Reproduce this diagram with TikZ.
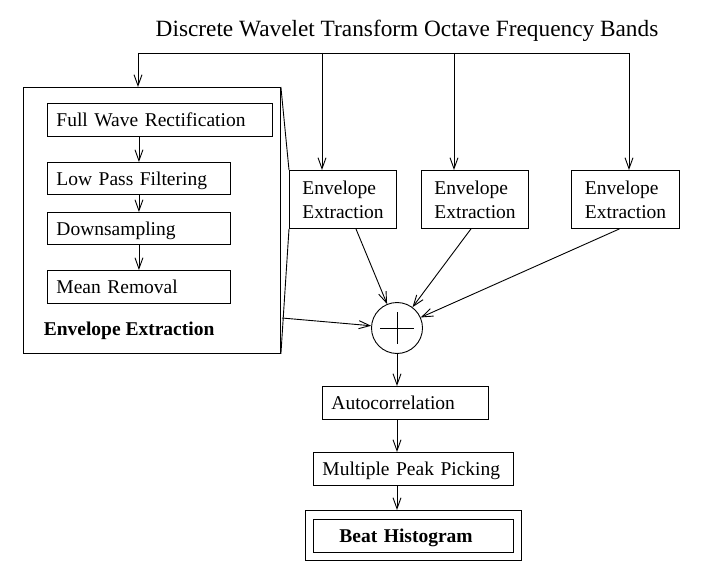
\documentclass[tikz,border=0pt]{standalone}
\usepackage{fontspec}
\setmainfont{Liberation Serif}
\usetikzlibrary{arrows.meta}
\hyphenpenalty=10000
\exhyphenpenalty=10000

\tikzset{
	blk/.style={draw,anchor=north west,align=left,inner xsep=9pt,inner ysep=0pt,
		text height=14pt,text depth=0pt,font=\fontsize{19.5}{24}\selectfont},
	envblk/.style={draw,anchor=north west,align=left,inner xsep=13pt,inner ysep=0pt,
		text width=81pt,minimum height=58pt,font=\fontsize{19.5}{24}\selectfont},
}

\begin{document}
\begin{tikzpicture}[x=1pt,y=-1pt,line width=0.9pt,>={Straight Barb[length=11pt,width=8pt]}]
	            
	            \useasboundingbox (0,0) rectangle (704,580);
	            
	            \node[anchor=base,font=\fontsize{23.3}{28}\selectfont] (title) at (407,37) {Discrete Wavelet Transform Octave Frequency Bands};
	            
	            % envelope extraction in detail
	            \node[draw,anchor=north west,minimum width=257pt,minimum height=266pt,inner sep=0pt] (big) at (23,87) {};
	            \node[blk,text width=207pt,minimum height=33pt] (fwr) at (47,103) {Full Wave Rectification};
	            \node[blk,text width=165pt,minimum height=32pt] (lpf) at (47,162) {Low Pass Filtering};
	            \node[blk,text width=165pt,minimum height=32pt] (down) at (47,212) {Downsampling};
	            \node[blk,text width=165pt,minimum height=33pt] (mean) at (47,270) {Mean Removal};
	            \node[anchor=base west,font=\fontsize{19.5}{24}\selectfont\bfseries] (biglabel) at (40,335) {Envelope Extraction};
	            
	            \draw [->](fwr.south -| lpf.north) -- (lpf.north);
	            \draw [->](lpf.south) -- (down.north);
	            \draw [->](down.south) -- (mean.north);
	            
	            % the other bands
	            \node[envblk] (env1) at (289,170) {Envelope\\Extraction};
	            \node[envblk] (env2) at (421,170) {Envelope\\Extraction};
	            \node[envblk,minimum width=108pt] (env3) at (571,170) {Envelope\\Extraction};
	            
	            \coordinate (bus0) at (138,53);
	            \coordinate (bus1) at (322,53);
	            \coordinate (bus2) at (454,53);
	            \coordinate (bus3) at (629,53);
	            \draw (bus0) -- (bus3);
	            \draw [->](bus0) -- (bus0 |- big.north);
	            \draw [->](bus1) -- (bus1 |- env1.north);
	            \draw [->](bus2) -- (bus2 |- env2.north);
	            \draw [->](bus3) -- (bus3 |- env3.north);
	            
	            \draw (big.north east) -- (env1.north west);
	            \draw (env1.south west) -- (big.south east);
	            
	            % summation
	            \node[draw,circle,minimum size=51pt,inner sep=0pt] (sum) at (397,328) {};
	            \draw (sum.center) +(-17,0) -- +(17,0);
	            \draw (sum.center) +(0,-16) -- +(0,16);
	            
	            \coordinate (bigout) at (282,318);
	            \draw [->](bigout) -- (sum);
	            \draw [->]([xshift=13pt]env1.south) -- (sum);
	            \draw [->]([xshift=-4pt]env2.south) -- (sum);
	            \draw [->]([xshift=-6pt]env3.south) -- (sum);
	            
	            % periodicity detection
	            \node[blk,text width=148pt,minimum height=33pt] (acf) at (322,386) {Autocorrelation};
	            \node[blk,text width=182pt,minimum height=33pt] (peak) at (313,452) {Multiple Peak Picking};
	            \node[draw,anchor=north west,minimum width=216pt,minimum height=50pt,inner sep=0pt] (histout) at (305,510) {};
	            \node[blk,inner xsep=26pt,text width=148pt,minimum height=33pt,font=\fontsize{19.5}{24}\selectfont\bfseries] (hist) at (313,519) {Beat Histogram};
	            
	            \draw [->](sum) -- (sum |- acf.north);
	            \draw [->](acf.south -| sum) -- (sum |- peak.north);
	            \draw [->](peak.south -| sum) -- (sum |- histout.north);
	            
\end{tikzpicture}
\end{document}
